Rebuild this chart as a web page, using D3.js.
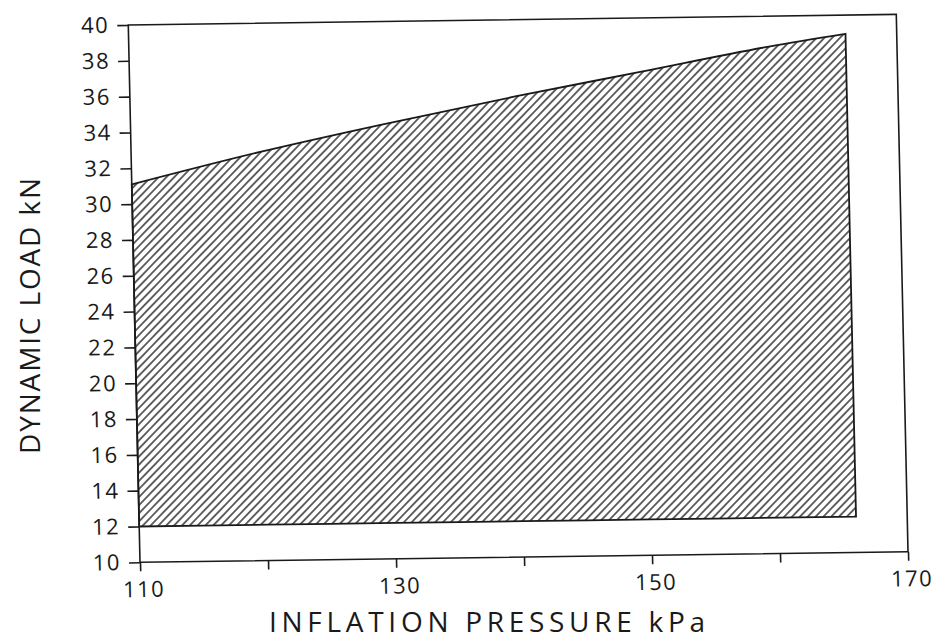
<!DOCTYPE html>
<html>
<head>
<meta charset="utf-8">
<script src="https://cdn.jsdelivr.net/npm/d3@7"></script>
<style>
  html, body { margin: 0; padding: 0; background: #fff; }
  svg { display: block; }
  text { font-family: "Open Sans", "Liberation Sans", sans-serif; fill: #1a1a1a; }
</style>
</head>
<body>
<svg id="chart" width="935" height="641"></svg>
<script>
// Operating envelope: dynamic load range vs. inflation pressure
const pressure   = [110, 120, 130, 140, 150, 160, 166];
const upperLoad  = [31.1, 32.8, 34.3, 35.7, 37.0, 38.3, 38.95];
const lowerLoad  = [12, 12, 12, 12, 12, 12, 12];
const xTicks     = [110, 120, 130, 140, 150, 160, 170];
const xLabels    = [110, 130, 150, 170];
const yTicks     = [10, 12, 14, 16, 18, 20, 22, 24, 26, 28, 30, 32, 34, 36, 38, 40];
const xTitle     = "INFLATION PRESSURE  kPa";
const yTitle     = "DYNAMIC LOAD kN";

const svg = d3.select("#chart");

const x = d3.scaleLinear().domain([110, 170]).range([140, 908]);
const y = d3.scaleLinear().domain([10, 40]).range([562.3, 25]);

// plot is drawn slightly sheared, like a sheet fed a bit crooked
const ox = 140, oy = 562.3;
const g = svg.append("g")
  .attr("transform", `translate(${ox},${oy}) matrix(1,-0.0138,0.0218,1,0,0) translate(${-ox},${-oy})`);

// diagonal hatching
const defs = svg.append("defs");
const pat = defs.append("pattern")
  .attr("id", "hatch")
  .attr("patternUnits", "userSpaceOnUse")
  .attr("width", 5.6).attr("height", 10)
  .attr("patternTransform", "rotate(45)");
pat.append("line")
  .attr("x1", 2.8).attr("y1", 0).attr("x2", 2.8).attr("y2", 10)
  .attr("stroke", "#262626").attr("stroke-width", 1.4);

// envelope polygon: upper boundary then lower boundary back
const area = d3.area()
  .x((d, i) => x(pressure[i]))
  .y0((d, i) => y(lowerLoad[i]))
  .y1((d, i) => y(upperLoad[i]))
  .curve(d3.curveMonotoneX);

g.append("path")
  .datum(pressure)
  .attr("d", area)
  .attr("fill", "url(#hatch)")
  .attr("stroke", "#1a1a1a")
  .attr("stroke-width", 1.8)
  .attr("stroke-linejoin", "miter");

// frame
g.append("rect")
  .attr("x", x(110)).attr("y", y(40))
  .attr("width", x(170) - x(110)).attr("height", y(10) - y(40))
  .attr("fill", "none").attr("stroke", "#1a1a1a").attr("stroke-width", 1.6);

// y axis
const yAxis = g.append("g")
  .attr("transform", `translate(${x(110)},0)`)
  .call(d3.axisLeft(y).tickValues(yTicks).tickSize(11).tickPadding(8).tickFormat(d3.format("d")));
yAxis.select(".domain").remove();
yAxis.selectAll(".tick line").attr("stroke", "#1a1a1a").attr("stroke-width", 1.6);
yAxis.selectAll(".tick text")
  .attr("font-size", 22).attr("letter-spacing", 1.5).attr("fill", "#1a1a1a")
  .attr("font-family", "'Open Sans', 'Liberation Sans', sans-serif");

// x axis
const xAxis = g.append("g")
  .attr("transform", `translate(0,${y(10)})`)
  .call(d3.axisBottom(x).tickValues(xTicks).tickSize(9).tickPadding(10)
    .tickFormat(d => xLabels.includes(d) ? d : ""));
xAxis.select(".domain").remove();
xAxis.selectAll(".tick line").attr("stroke", "#1a1a1a").attr("stroke-width", 1.6);
xAxis.selectAll(".tick text")
  .attr("font-size", 22).attr("letter-spacing", 1.5).attr("fill", "#1a1a1a")
  .attr("dx", 3)
  .attr("font-family", "'Open Sans', 'Liberation Sans', sans-serif");

// axis titles
svg.append("text")
  .attr("x", 487).attr("y", 632)
  .attr("text-anchor", "middle")
  .attr("font-size", 28)
  .attr("textLength", 436).attr("lengthAdjust", "spacing")
  .text(xTitle);

svg.append("text")
  .attr("transform", "translate(40,316) rotate(-90)")
  .attr("text-anchor", "middle")
  .attr("font-size", 28)
  .attr("textLength", 276).attr("lengthAdjust", "spacing")
  .text(yTitle);
</script>
</body>
</html>
